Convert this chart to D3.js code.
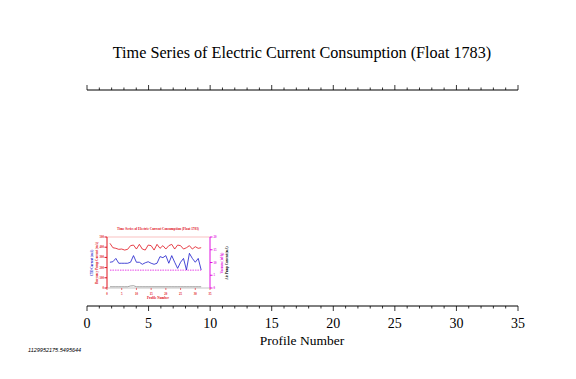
<!DOCTYPE html>
<html><head><meta charset="utf-8">
<script src="https://cdn.jsdelivr.net/npm/d3@7"></script>
<style>html,body{margin:0;padding:0;background:#fff;}svg{display:block;}</style>
</head><body>
<script>
// ---- data ----
const title = "Time Series of Electric Current Consumption (Float 1783)";
const xLabel = "Profile Number";
const xTicks = [0, 5, 10, 15, 20, 25, 30, 35];
const footer = "1129952175.5495644";
// inset (thumbnail) series
const profiles = [1,2,3,4,5,6,7,8,9,10,11,12,13,14,15,16,17,18,19,20,21,22,23,24,25,26,27,28,29,30,31,32];
const pumpCurrent = [438,395,389,379,382,372,379,415,421,382,428,382,372,421,415,372,428,389,415,382,415,428,382,421,415,382,395,415,382,405,389,395];
const ctdCurrent = [101,103,116,97,97,97,97,101,127,101,101,93,99,103,97,93,97,123,119,127,97,127,101,77,101,116,71,136,116,101,116,71];
const vacuum = [7,7,7,7,7,7,7,7,7,7,7,7,7,7,7,7,7,7,7,7,7,7,7,7,7,7,7,7,7,7,7,7];
const airPump = [1,1,1,1,1,1,1,1.6,1.8,1,1,1,1,1,1,1,1,1,1,1,1,1,1,1,1,1,1,1,1,1,1,1];
const insetLeftTicks = [0,100,200,300,400,500];
const insetRightTicks = [0,5,10,15,20];

const W = 576, H = 379;
const svg = d3.select("body").append("svg").attr("width", W).attr("height", H);
const serif = "'Liberation Serif','Times New Roman',serif";

// main x scale
const x = d3.scaleLinear().domain([0, 35]).range([87, 518]);
const yTop = 90, yBot = 306;

svg.append("text").attr("x", 302).attr("y", 58).attr("text-anchor", "middle")
  .style("font-family", serif).style("font-size", "16.2px").text(title);

// top axis (ticks outward/up, no labels)
const topAx = svg.append("g").attr("transform", `translate(0,${yTop})`);
topAx.append("line").attr("x1", x(0)).attr("x2", x(35)).attr("stroke", "#000").attr("stroke-width", 1);
topAx.selectAll("line.t").data(d3.range(0, 36)).join("line").attr("class","t")
  .attr("x1", d => x(d)).attr("x2", d => x(d))
  .attr("y1", 0).attr("y2", d => d % 5 === 0 ? -5 : -2.5)
  .attr("stroke", "#000").attr("stroke-width", 0.8);

// bottom axis
const botAx = svg.append("g").attr("transform", `translate(0,${yBot})`);
botAx.append("line").attr("x1", x(0)).attr("x2", x(35)).attr("stroke", "#000").attr("stroke-width", 1);
botAx.selectAll("line.t").data(d3.range(0, 36)).join("line").attr("class","t")
  .attr("x1", d => x(d)).attr("x2", d => x(d))
  .attr("y1", 0).attr("y2", d => d % 5 === 0 ? 5 : 2.5)
  .attr("stroke", "#000").attr("stroke-width", 0.8);
botAx.selectAll("text").data(xTicks).join("text")
  .attr("x", d => x(d)).attr("y", 22).attr("text-anchor", "middle")
  .style("font-family", serif).style("font-size", "14px").text(d => d);
svg.append("text").attr("x", 302).attr("y", 345).attr("text-anchor", "middle")
  .style("font-family", serif).style("font-size", "13.5px").text(xLabel);

svg.append("text").attr("x", 28).attr("y", 352)
  .style("font-family", "'Liberation Sans',sans-serif").style("font-style", "italic")
  .style("font-size", "5.5px").text(footer);

// ---- inset thumbnail ----
const red = "#e0101a", blue = "#1a1acc", mag = "#e010e0";
const ix = d3.scaleLinear().domain([0, 35]).range([107, 210]);
const iyL = d3.scaleLinear().domain([0, 500]).range([288, 237]);
const iyB = d3.scaleLinear().domain([0, 200]).range([288, 237]);
const iyR = d3.scaleLinear().domain([0, 20]).range([288, 237]);
const iyK = d3.scaleLinear().domain([0, 40]).range([288, 237]);
const g = svg.append("g");
g.append("text").attr("x", 158).attr("y", 230).attr("text-anchor", "middle")
  .style("font-family", serif).style("font-size", "3.3px").style("font-weight", "bold").attr("fill", red).text(title);
// frame lines
g.append("line").attr("x1", 107).attr("x2", 210).attr("y1", 237).attr("y2", 237).attr("stroke", "#f08080").attr("stroke-width", 0.5);
g.append("line").attr("x1", 107).attr("x2", 210).attr("y1", 288).attr("y2", 288).attr("stroke", "#888").attr("stroke-width", 0.5);
g.append("line").attr("x1", 107).attr("x2", 107).attr("y1", 237).attr("y2", 288).attr("stroke", red).attr("stroke-width", 1);
g.append("line").attr("x1", 210).attr("x2", 210).attr("y1", 237).attr("y2", 288).attr("stroke", mag).attr("stroke-width", 1);
g.selectAll("line.lt").data(insetLeftTicks).join("line").attr("class","lt")
  .attr("x1", 107).attr("x2", 104.5).attr("y1", d => iyL(d)).attr("y2", d => iyL(d)).attr("stroke", red).attr("stroke-width", 1);
g.selectAll("text.lt").data(insetLeftTicks).join("text").attr("class","lt")
  .attr("x", 104).attr("y", d => iyL(d) + 1).attr("text-anchor", "end")
  .style("font-family", serif).style("font-size", "3px").style("font-weight", "bold").attr("fill", red).text(d => d);
g.selectAll("line.rt").data(insetRightTicks).join("line").attr("class","rt")
  .attr("x1", 210).attr("x2", 212.5).attr("y1", d => iyR(d)).attr("y2", d => iyR(d)).attr("stroke", mag).attr("stroke-width", 1);
g.selectAll("text.rt").data(insetRightTicks).join("text").attr("class","rt")
  .attr("x", 213.5).attr("y", d => iyR(d) + 1)
  .style("font-family", serif).style("font-size", "3px").style("font-weight", "bold").attr("fill", mag).text(d => d);
g.selectAll("line.bt").data(xTicks).join("line").attr("class","bt")
  .attr("x1", d => ix(d)).attr("x2", d => ix(d)).attr("y1", 288).attr("y2", 290).attr("stroke", red).attr("stroke-width", 0.6);
g.selectAll("text.bt").data(xTicks).join("text").attr("class","bt")
  .attr("x", d => ix(d)).attr("y", 294.5).attr("text-anchor", "middle")
  .style("font-family", serif).style("font-size", "3px").style("font-weight", "bold").attr("fill", red).text(d => d);
g.append("text").attr("x", 158).attr("y", 299).attr("text-anchor", "middle")
  .style("font-family", serif).style("font-size", "3.3px").style("font-weight", "bold").attr("fill", red).text(xLabel);
// rotated axis labels
const rot = (tx, ty, col, txt) => g.append("text").attr("transform", `translate(${tx},${ty}) rotate(-90)`)
  .attr("text-anchor", "middle").style("font-family", serif).style("font-size", "3.2px")
  .style("font-weight", "bold").attr("fill", col).text(txt);
rot(93, 263, blue, "CTD Current (mA)");
rot(98, 263, red, "Buoyancy Pump Current (mA)");
rot(223, 263, mag, "Vacuum (inHg)");
rot(228, 263, "#000", "Air Pump Current (mA)");
// series
const line = (ys, vals) => d3.line().x((d, i) => ix(profiles[i])).y(d => ys(d))(vals);
g.append("path").attr("d", line(iyK, airPump)).attr("fill", "none").attr("stroke", "#666").attr("stroke-width", 0.6);
g.append("path").attr("d", line(iyR, vacuum)).attr("fill", "none").attr("stroke", mag).attr("stroke-width", 0.8).attr("stroke-dasharray", "1.5,1");
g.append("path").attr("d", line(iyB, ctdCurrent)).attr("fill", "none").attr("stroke", blue).attr("stroke-width", 0.8);
g.append("path").attr("d", line(iyL, pumpCurrent)).attr("fill", "none").attr("stroke", red).attr("stroke-width", 0.8);
</script>
</body></html>
